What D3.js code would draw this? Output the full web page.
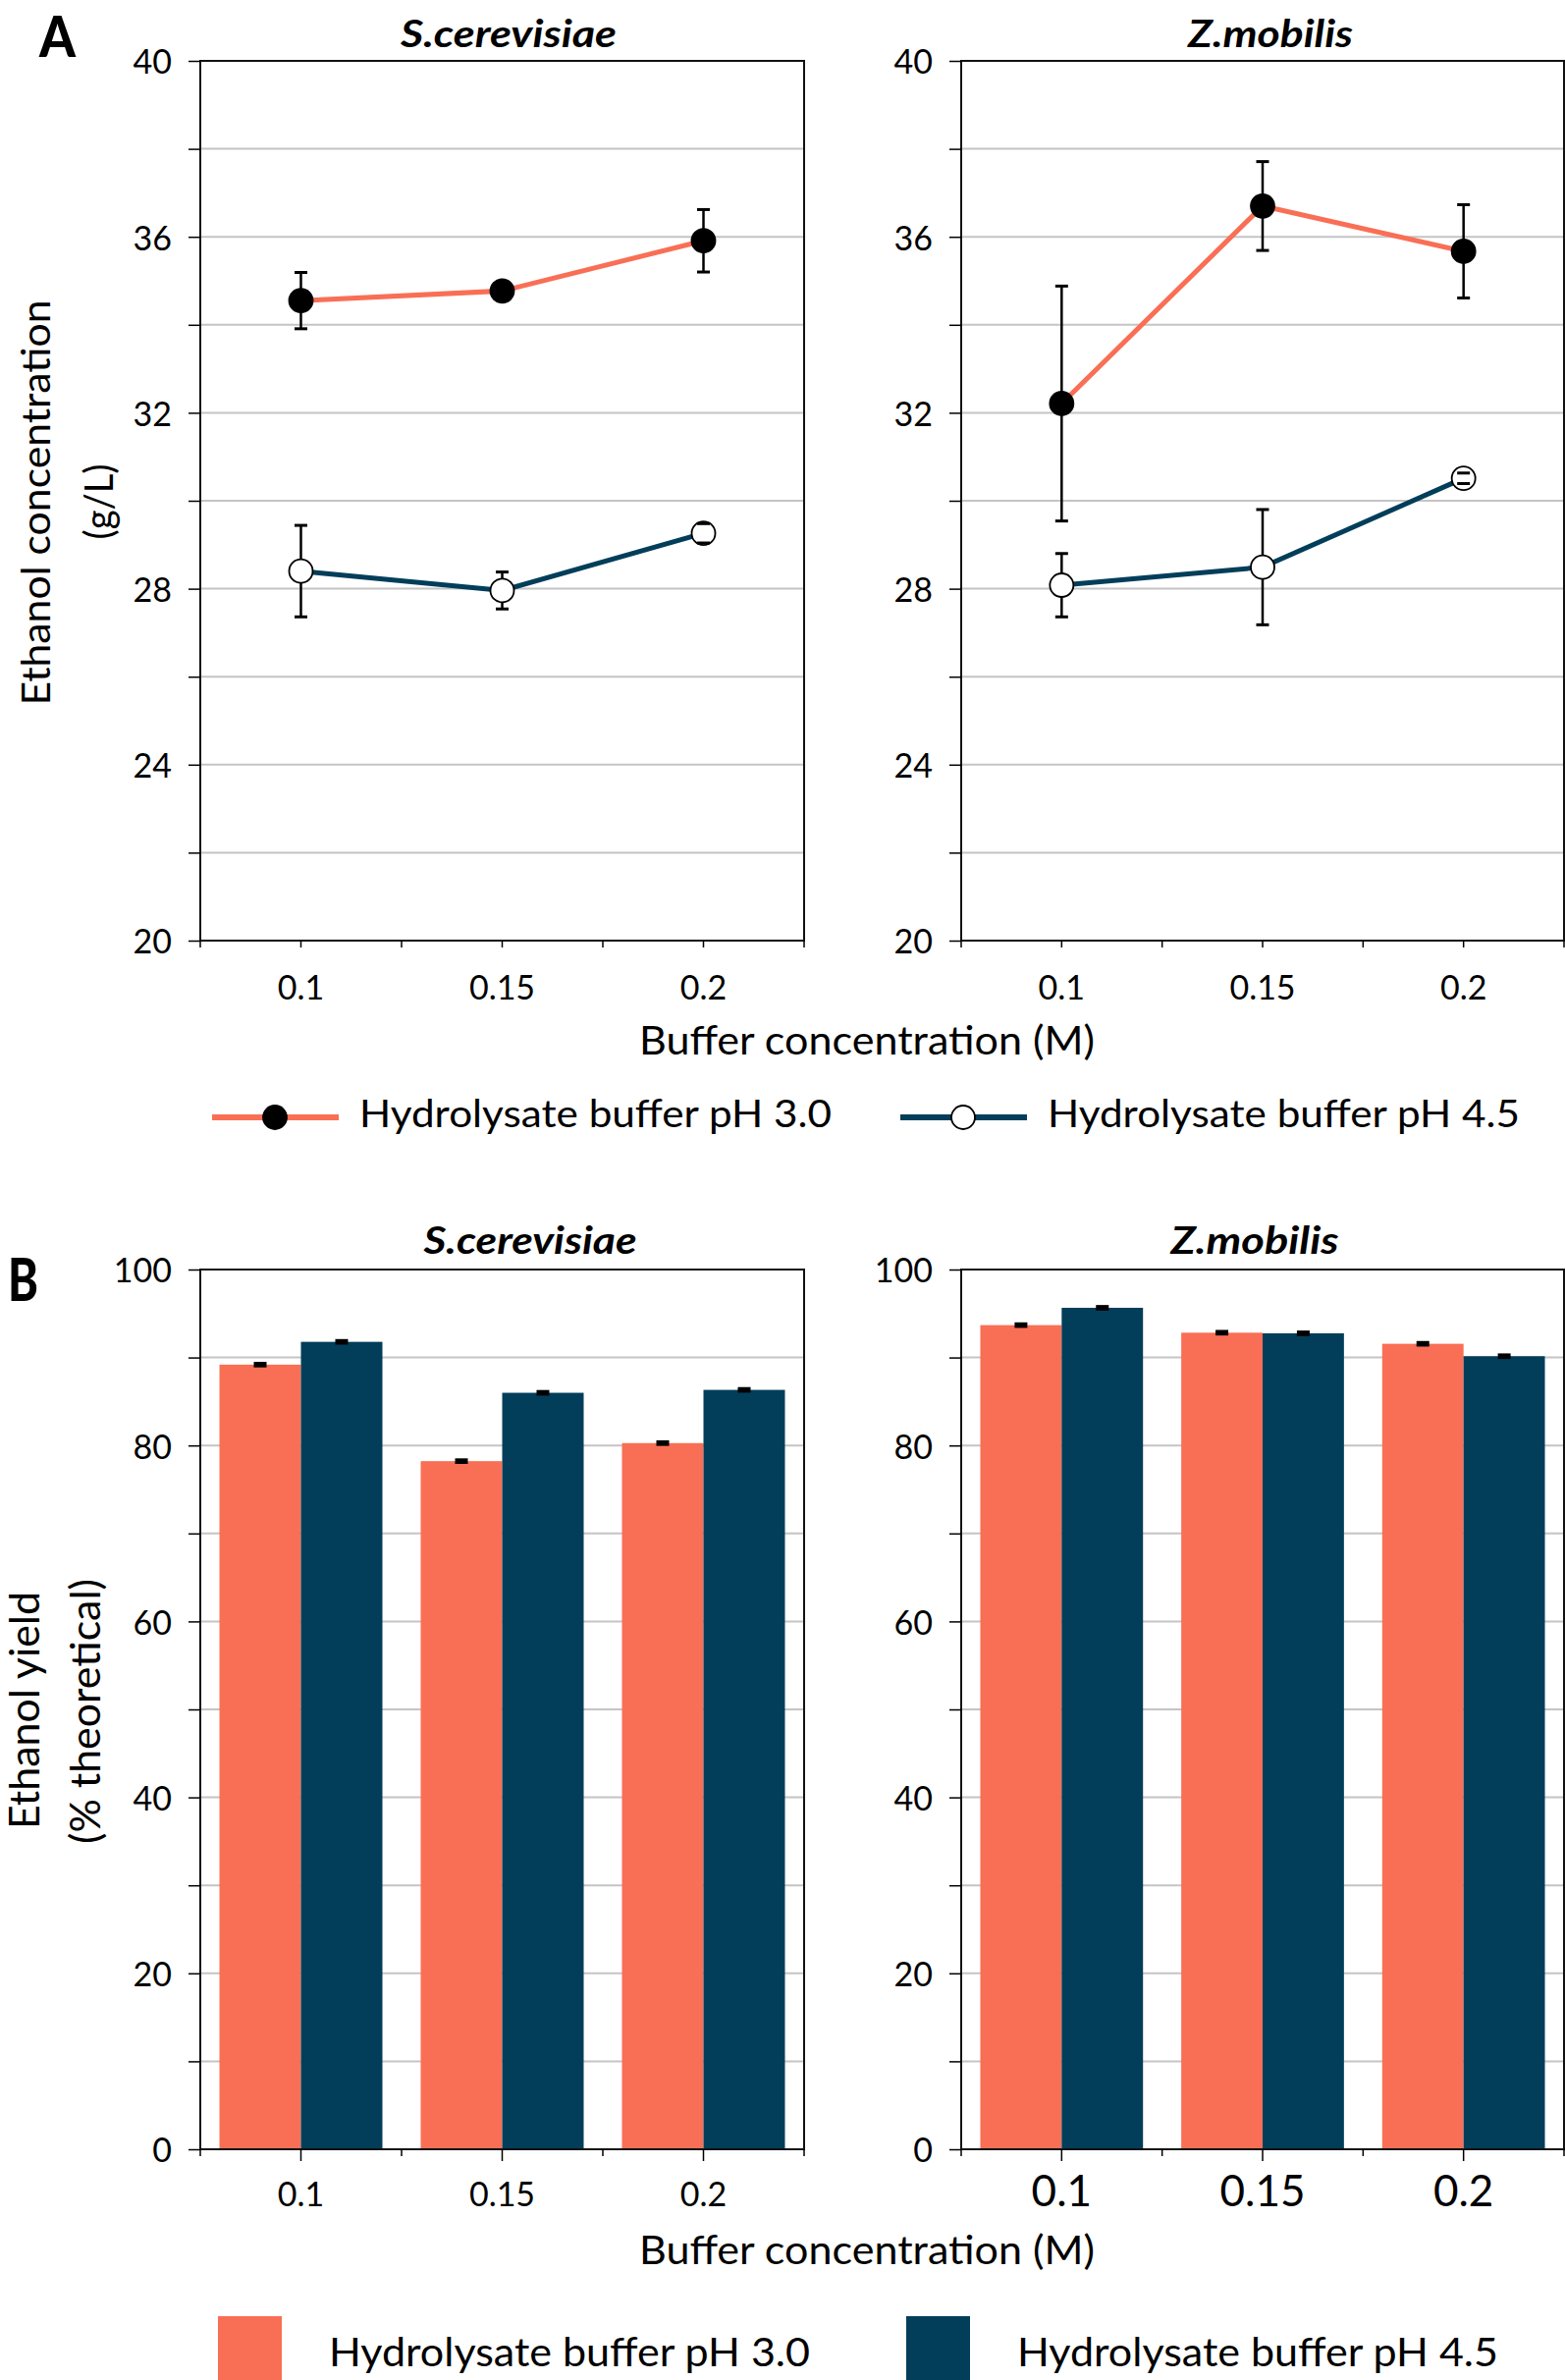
<!DOCTYPE html>
<html><head><meta charset="utf-8">
<script src="https://cdn.jsdelivr.net/npm/d3@7"></script>
<style>
body{margin:0;background:#fff}
svg{display:block}
text{font-family:Lato,"Open Sans",sans-serif;fill:#000}
</style>
</head><body>
<svg id="c" width="1594" height="2424"></svg>
<script>
// ---------------- DATA ----------------
const categories = ["0.1", "0.15", "0.2"];
const organisms = ["S.cerevisiae", "Z.mobilis"];
const seriesNames = ["Hydrolysate buffer pH 3.0", "Hydrolysate buffer pH 4.5"];

// Panel A: ethanol concentration (g/L)
const concScer_pH30 = [34.55, 34.77, 35.91];
const concScer_pH30_err = [0.64, 0.10, 0.71];
const concScer_pH45 = [28.40, 27.96, 29.26];
const concScer_pH45_err = [1.04, 0.42, 0.22];
const concZmob_pH30 = [32.21, 36.70, 35.67];
const concZmob_pH30_err = [2.67, 1.01, 1.06];
const concZmob_pH45 = [28.08, 28.49, 30.51];
const concZmob_pH45_err = [0.72, 1.31, 0.12];

// Panel B: ethanol yield (% theoretical)
const yieldScer_pH30 = [89.19, 78.22, 80.27];
const yieldScer_pH45 = [91.78, 85.99, 86.32];
const yieldZmob_pH30 = [93.68, 92.82, 91.56];
const yieldZmob_pH45 = [95.65, 92.75, 90.15];
const yieldScer_pH30_err = [0.15, 0.15, 0.15];
const yieldScer_pH45_err = [0.15, 0.15, 0.15];
const yieldZmob_pH30_err = [0.15, 0.15, 0.15];
const yieldZmob_pH45_err = [0.15, 0.15, 0.15];

// Axis ticks
const concDomain = [20, 40];
const concTickLabels = [20, 24, 28, 32, 36, 40];
const concGrid = [20, 22, 24, 26, 28, 30, 32, 34, 36, 38, 40];
const yieldDomain = [0, 100];
const yieldTickLabels = [0, 20, 40, 60, 80, 100];
const yieldGrid = [0, 10, 20, 30, 40, 50, 60, 70, 80, 90, 100];

// ---------------- STYLE / LAYOUT ----------------
const C_OR = "#F96F55", C_NV = "#023E5A", C_GRID = "#C4C4C4";
const panelsX = [[204, 819], [979, 1593]];
const A = {top: 62, bottom: 958};
const B = {top: 1293, bottom: 2189};

const svg = d3.select("#c");
svg.append("rect").attr("width", 1594).attr("height", 2424).attr("fill", "#fff");

function yAxis(g, x0, y, grid, labels, fs) {
  const ax = g.append("g").attr("transform", `translate(${x0},0)`)
    .call(d3.axisLeft(y).tickValues(grid).tickSize(12).tickPadding(17)
      .tickFormat(d => labels.includes(d) ? d : ""));
  ax.select(".domain").remove();
  ax.selectAll(".tick line").attr("stroke", "#000").attr("stroke-width", 1.5);
  ax.selectAll(".tick text").attr("font-size", fs).attr("dy", "0.38em")
    .attr("font-family", "Lato").style("fill", "#000");
}

function xAxis(g, x, yb, fs, labelOffset, longCenter) {
  const ax = g.append("g").attr("transform", `translate(0,${yb})`)
    .call(d3.axisBottom(x).tickSize(longCenter ? 12 : 7).tickPadding(0));
  ax.select(".domain").remove();
  ax.selectAll(".tick line").attr("stroke", "#000").attr("stroke-width", 1.5);
  ax.selectAll(".tick text").attr("font-size", fs).attr("y", labelOffset).attr("dy", 0)
    .attr("font-family", "Lato").style("fill", "#000");
  const bounds = categories.map(c => x(c)).concat([x.range()[1]]);
  g.selectAll(null).data(bounds).join("line")
    .attr("x1", d => d).attr("x2", d => d)
    .attr("y1", yb).attr("y2", yb + 7)
    .attr("stroke", "#000").attr("stroke-width", 1.5);
}

function frame(g, x0, x1, y0, y1) {
  g.append("rect").attr("x", x0).attr("y", y0).attr("width", x1 - x0).attr("height", y1 - y0)
    .attr("fill", "none").attr("stroke", "#111").attr("stroke-width", 2);
}

function grid(g, x0, x1, y, vals) {
  g.selectAll(null).data(vals).join("line")
    .attr("x1", x0).attr("x2", x1).attr("y1", d => y(d)).attr("y2", d => y(d))
    .attr("stroke", C_GRID).attr("stroke-width", 2);
}

function title(g, xc, yb, txt, len) {
  g.append("text").attr("x", xc).attr("y", yb)
    .attr("text-anchor", "middle").attr("font-size", 39).attr("font-weight", 700)
    .attr("font-style", "italic")
    .attr("textLength", len).attr("lengthAdjust", "spacingAndGlyphs").text(txt);
}

// ---------------- PANEL A ----------------
function panelA(i, v30, e30, v45, e45) {
  const [x0, x1] = panelsX[i];
  const x = d3.scaleBand().domain(categories).range([x0, x1]).padding(0);
  const y = d3.scaleLinear().domain(concDomain).range([A.bottom, A.top]);
  const g = svg.append("g");
  grid(g, x0, x1, y, concGrid.slice(1, -1));
  frame(g, x0, x1, A.top, A.bottom);
  yAxis(g, x0, y, concGrid, concTickLabels, 34);
  xAxis(g, x, A.bottom, 34, 60, false);
  const cx = c => x(c) + x.bandwidth() / 2;
  const series = [
    {v: v30, e: e30, color: C_OR, fill: "#000"},
    {v: v45, e: e45, color: C_NV, fill: "#fff"}
  ];
  const line = d3.line().x(d => cx(d.c)).y(d => y(d.v));
  series.forEach(s => {
    const pts = categories.map((c, k) => ({c, v: s.v[k], e: s.e[k]}));
    g.append("path").datum(pts).attr("d", line).attr("fill", "none")
      .attr("stroke", s.color).attr("stroke-width", 5);
    g.selectAll(null).data(pts).join("line")
      .attr("x1", d => cx(d.c)).attr("x2", d => cx(d.c))
      .attr("y1", d => y(d.v - d.e)).attr("y2", d => y(d.v + d.e))
      .attr("stroke", "#000").attr("stroke-width", 2.5);
    g.selectAll(null).data(pts).join("circle")
      .attr("cx", d => cx(d.c)).attr("cy", d => y(d.v)).attr("r", 12)
      .attr("fill", s.fill).attr("stroke", "#000").attr("stroke-width", 1.8);
    pts.forEach(d => {
      [d.v - d.e, d.v + d.e].forEach(vv => {
        g.append("line").attr("x1", cx(d.c) - 6.5).attr("x2", cx(d.c) + 6.5)
          .attr("y1", y(vv)).attr("y2", y(vv)).attr("stroke", "#000").attr("stroke-width", 3);
      });
    });
  });
  if (i === 0) title(g, 518, 48, organisms[0], 220);
  else title(g, 1294, 48, organisms[1], 168);
}

panelA(0, concScer_pH30, concScer_pH30_err, concScer_pH45, concScer_pH45_err);
panelA(1, concZmob_pH30, concZmob_pH30_err, concZmob_pH45, concZmob_pH45_err);

// ---------------- PANEL B ----------------
function panelB(i, v30, e30, v45, e45, xfs) {
  const [x0, x1] = panelsX[i];
  const x = d3.scaleBand().domain(categories).range([x0, x1]).padding(0);
  const xi = d3.scaleBand().domain(seriesNames).range([0, x.bandwidth()]).paddingInner(0).paddingOuter(0.235);
  const y = d3.scaleLinear().domain(yieldDomain).range([B.bottom, B.top]);
  const g = svg.append("g");
  grid(g, x0, x1, y, yieldGrid.slice(1, -1));
  const vals = [v30, v45], errs = [e30, e45], cols = [C_OR, C_NV];
  seriesNames.forEach((sn, si) => {
    const data = categories.map((c, k) => ({c, v: vals[si][k], e: errs[si][k]}));
    g.selectAll(null).data(data).join("rect")
      .attr("x", d => x(d.c) + xi(sn)).attr("width", xi.bandwidth())
      .attr("y", d => y(d.v)).attr("height", d => y(0) - y(d.v))
      .attr("fill", cols[si]);
    data.forEach(d => {
      const bx = x(d.c) + xi(sn) + xi.bandwidth() / 2;
      g.append("rect").attr("x", bx - 6.5).attr("width", 13)
        .attr("y", y(d.v + d.e) - 1.5).attr("height", y(d.v - d.e) - y(d.v + d.e) + 3)
        .attr("fill", "#000");
    });
  });
  frame(g, x0, x1, B.top, B.bottom);
  yAxis(g, x0, y, yieldGrid, yieldTickLabels, 34);
  xAxis(g, x, B.bottom, xfs, 58, true);
  if (i === 0) title(g, 540, 1277, organisms[0], 217);
  else title(g, 1278, 1277, organisms[1], 171);
}

panelB(0, yieldScer_pH30, yieldScer_pH30_err, yieldScer_pH45, yieldScer_pH45_err, 34);
panelB(1, yieldZmob_pH30, yieldZmob_pH30_err, yieldZmob_pH45, yieldZmob_pH45_err, 44);

// ---------------- LABELS ----------------
svg.append("text").attr("x", 40).attr("y", 58).attr("font-size", 58).attr("font-weight", 900)
  .attr("textLength", 37).attr("lengthAdjust", "spacingAndGlyphs").text("A");
svg.append("text").attr("x", 8).attr("y", 1325).attr("font-size", 60).attr("font-weight", 900)
  .attr("textLength", 31).attr("lengthAdjust", "spacingAndGlyphs").text("B");

function rotLabel(xb, yc, txt, fs, len) {
  svg.append("text").attr("transform", `translate(${xb},${yc}) rotate(-90)`)
    .attr("text-anchor", "middle").attr("font-size", fs)
    .attr("textLength", len).attr("lengthAdjust", "spacingAndGlyphs").text(txt);
}
rotLabel(51, 512, "Ethanol concentration", 40, 413);
rotLabel(115, 511, "(g/L)", 40, 77);
rotLabel(40, 1742, "Ethanol yield", 42, 242);
rotLabel(102, 1743, "(% theoretical)", 42, 270);

function hLabel(x, y, txt, fs, len, anchor) {
  svg.append("text").attr("x", x).attr("y", y).attr("font-size", fs)
    .attr("text-anchor", anchor || "start")
    .attr("textLength", len).attr("lengthAdjust", "spacingAndGlyphs").text(txt);
}
hLabel(883, 1074, "Buffer concentration (M)", 40, 464, "middle");
hLabel(883, 2306, "Buffer concentration (M)", 40, 464, "middle");

// Legend A
const legA = [{x: 216, color: C_OR, fill: "#000"}, {x: 917, color: C_NV, fill: "#fff"}];
legA.forEach((l, k) => {
  svg.append("line").attr("x1", l.x).attr("x2", l.x + 129).attr("y1", 1138).attr("y2", 1138)
    .attr("stroke", l.color).attr("stroke-width", 6);
  svg.append("circle").attr("cx", l.x + 64).attr("cy", 1138).attr("r", 12)
    .attr("fill", l.fill).attr("stroke", "#000").attr("stroke-width", 1.8);
  hLabel(l.x + 150, 1148, seriesNames[k], 39, 481);
});

// Legend B
const legB = [{x: 222, color: C_OR}, {x: 923, color: C_NV}];
legB.forEach((l, k) => {
  svg.append("rect").attr("x", l.x).attr("y", 2359).attr("width", 65).attr("height", 65).attr("fill", l.color);
  hLabel(l.x + 113, 2410, seriesNames[k], 41, 490);
});
</script>
</body></html>
